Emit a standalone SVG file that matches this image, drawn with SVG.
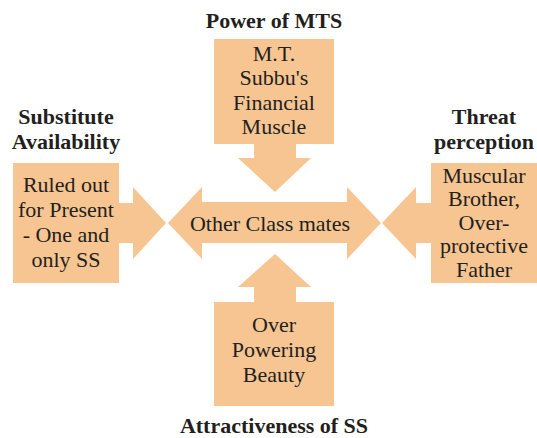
<svg xmlns="http://www.w3.org/2000/svg" width="537" height="438" viewBox="0 0 537 438">
<style>
.s{fill:#F6C591;stroke:none}
.t{font-family:'Liberation Serif','Times New Roman','DejaVu Serif',serif;font-size:22px;fill:#231F20;text-anchor:middle}
.h{font-family:'Liberation Serif','Times New Roman','DejaVu Serif',serif;font-size:22px;font-weight:bold;fill:#231F20;text-anchor:middle}
</style>
<rect width="537" height="438" fill="#FFFFFF"/>
<g id="connectors">
<polygon class="s" points="254,144 296,144 296,158 311,158 275,192 238,158 254,158"/>
<polygon class="s" points="254,302 296,302 296,287 311,287 275,254 238,287 254,287"/>
<polygon class="s" points="119,203 133,203 133,187 166,223 133,259 133,243 119,243"/>
<polygon class="s" points="431,203 416,203 416,187 382,223 416,259 416,243 431,243"/>
</g>
<g id="center">
<polygon class="s" points="168,223 202,187 202,202 347,202 347,187 381,223 347,259 347,243 202,243 202,259"/>
<text class="t" x="270" y="231">Other Class mates</text>
</g>
<g id="top">
<text class="h" x="274" y="28">Power of MTS</text>
<rect class="s" x="214" y="39" width="120" height="105"/>
<text class="t" x="274" y="61">M.T.</text>
<text class="t" x="274" y="85">Subbu's</text>
<text class="t" x="274" y="110">Financial</text>
<text class="t" x="274" y="134">Muscle</text>
</g>
<g id="left">
<text class="h" x="66" y="124">Substitute</text>
<text class="h" x="66" y="149">Availability</text>
<rect class="s" x="13" y="163" width="106" height="120"/>
<text class="t" x="66" y="192">Ruled out</text>
<text class="t" x="66" y="217">for Present</text>
<text class="t" x="66" y="242">- One and</text>
<text class="t" x="66" y="267">only SS</text>
</g>
<g id="right">
<text class="h" x="484" y="124">Threat</text>
<text class="h" x="484" y="149">perception</text>
<rect class="s" x="431" y="163" width="106" height="120"/>
<text class="t" x="484" y="183">Muscular</text>
<text class="t" x="484" y="206">Brother,</text>
<text class="t" x="484" y="230">Over-</text>
<text class="t" x="484" y="253">protective</text>
<text class="t" x="484" y="277">Father</text>
</g>
<g id="bottom">
<rect class="s" x="214" y="302" width="120" height="104"/>
<text class="t" x="274" y="332">Over</text>
<text class="t" x="274" y="357">Powering</text>
<text class="t" x="274" y="382">Beauty</text>
<text class="h" x="274" y="433">Attractiveness of SS</text>
</g>
</svg>
